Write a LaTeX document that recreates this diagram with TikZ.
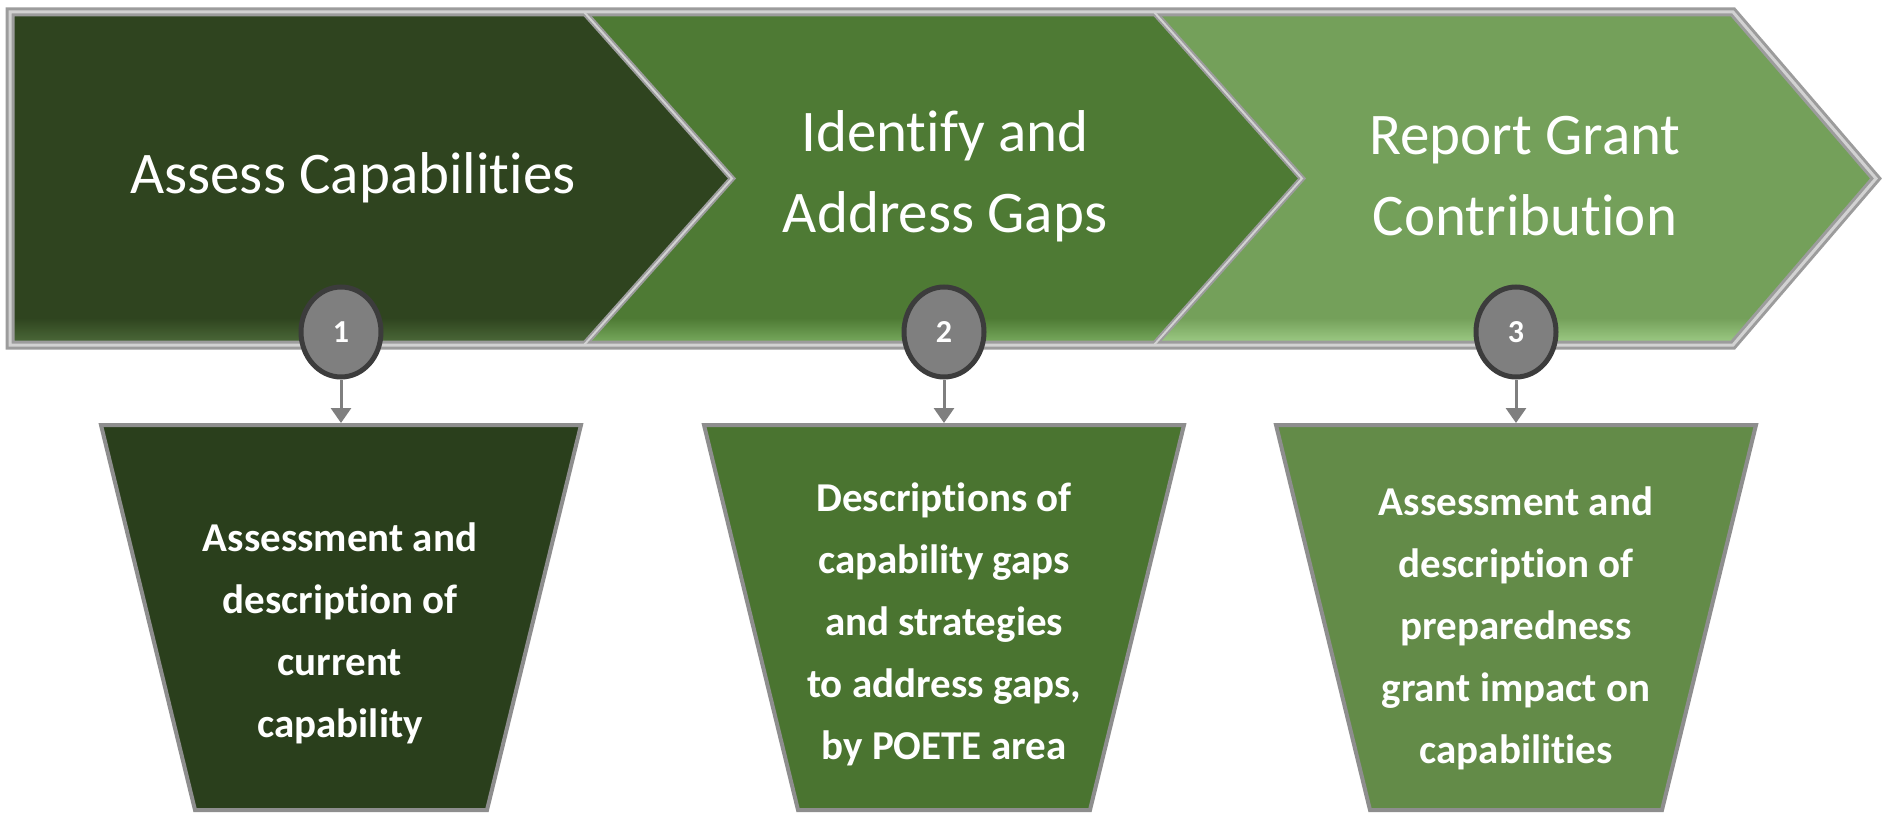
\documentclass[tikz,border=0pt]{standalone}
\usepackage{fontspec}
\setmainfont[Ligatures={NoCommon}]{Carlito}
\usetikzlibrary{shapes.geometric,arrows.meta}
\definecolor{chA}{HTML}{2F441F}
\definecolor{chB}{HTML}{4E7A34}
\definecolor{chC}{HTML}{74A05A}
\definecolor{chAl}{HTML}{4F6E3C}
\definecolor{chBl}{HTML}{7DB063}
\definecolor{chCl}{HTML}{A2D08A}
\definecolor{trA}{HTML}{2A3F1C}
\definecolor{trB}{HTML}{4A7430}
\definecolor{trC}{HTML}{638B48}
\definecolor{frameg}{HTML}{9C9C9C}
\definecolor{frameh}{HTML}{D2D2D2}
\definecolor{trapg}{HTML}{8E8E8E}
\definecolor{cirf}{HTML}{7F7F7F}
\definecolor{cird}{HTML}{3C3C3C}
\definecolor{arrg}{HTML}{7F7F7F}
\begin{document}
\begin{tikzpicture}[x=1pt,y=-1pt,
  chevframe/.style={draw=frameg, line width=9pt, line join=miter},
  chevhigh/.style={draw=frameh, line width=3pt, line join=miter},
  hd/.style={text=white, align=center, font=\fontsize{59}{81}\selectfont},
  trapbox/.style={draw=trapg, line width=4pt, line join=miter},
  trtext/.style={text=white, align=center, font=\bfseries\fontsize{41}{62}\selectfont},
  numc/.style={ellipse, minimum width=80pt, minimum height=90pt, inner sep=0pt,
    fill=cirf, draw=cird, line width=5pt, text=white,
    font=\bfseries\fontsize{32}{32}\selectfont},
  arr/.style={draw=arrg, line width=3pt, -{Triangle[width=20pt,length=15pt]}}]
\useasboundingbox (0,0) rectangle (1883,813);
\fill[white] (0,0) rectangle (1883,813);

% chevron 1
\fill[chA] (10,12) -- (584,12) -- (732,178.5) -- (584,345) -- (10,345) -- cycle;
\begin{scope}
\clip (10,12) -- (584,12) -- (732,178.5) -- (584,345) -- (10,345) -- cycle;
\shade[top color=chA, bottom color=chAl] (0,318) rectangle (760,346);
\end{scope}
% chevron 2
\fill[chB] (584,12) -- (1154,12) -- (1302,178.5) -- (1154,345) -- (584,345) -- (732,178.5) -- cycle;
\begin{scope}
\clip (584,12) -- (1154,12) -- (1302,178.5) -- (1154,345) -- (584,345) -- (732,178.5) -- cycle;
\shade[top color=chB, bottom color=chBl] (560,318) rectangle (1320,346);
\end{scope}
% chevron 3
\fill[chC] (1154,12) -- (1733,12) -- (1876,178.5) -- (1733,345) -- (1154,345) -- (1302,178.5) -- cycle;
\begin{scope}
\clip (1154,12) -- (1733,12) -- (1876,178.5) -- (1733,345) -- (1154,345) -- (1302,178.5) -- cycle;
\shade[top color=chC, bottom color=chCl] (1130,318) rectangle (1883,346);
\end{scope}

% frames
\path[chevframe] (10,12) -- (1733,12) -- (1876,178.5) -- (1733,345) -- (10,345) -- cycle;
\path[chevframe, line width=6pt] (584,12) -- (732,178.5) -- (584,345);
\path[chevframe, line width=6pt] (1154,12) -- (1302,178.5) -- (1154,345);
\path[chevhigh] (10,12) -- (1733,12) -- (1876,178.5) -- (1733,345) -- (10,345) -- cycle;
\path[chevhigh, line width=2pt] (584,12) -- (732,178.5) -- (584,345);
\path[chevhigh, line width=2pt] (1154,12) -- (1302,178.5) -- (1154,345);

% headings
\node[hd] (h1) at (353,178) {Assess Capabilities};
\node[hd] (h2) at (945,176) {Identify and\\Address Gaps};
\node[hd] (h3) at (1525,176) {Report Grant\\Contribution};

% trapezoids
\filldraw[trapbox, fill=trA] (101,425) -- (581,425) -- (487,810) -- (195,810) -- cycle;
\filldraw[trapbox, fill=trB] (704,425) -- (1184,425) -- (1090,810) -- (798,810) -- cycle;
\filldraw[trapbox, fill=trC] (1276,425) -- (1756,425) -- (1662,810) -- (1370,810) -- cycle;
\coordinate (t1top) at (341,423);
\coordinate (t2top) at (944,423);
\coordinate (t3top) at (1516,423);

\node[trtext] (t1) at (340,633) {Assessment and\\description of\\current\\capability};
\node[trtext] (t2) at (944,624) {Descriptions of\\capability gaps\\and strategies\\to address gaps,\\by POETE area};
\node[trtext] (t3) at (1516,628) {Assessment and\\description of\\preparedness\\grant impact on\\capabilities};

% numbered circles
\node[numc] (c1) at (341,332) {1};
\node[numc] (c2) at (944,332) {2};
\node[numc] (c3) at (1516,332) {3};

% connectors
\draw[arr] (c1) -- (t1top);
\draw[arr] (c2) -- (t2top);
\draw[arr] (c3) -- (t3top);
\end{tikzpicture}
\end{document}
